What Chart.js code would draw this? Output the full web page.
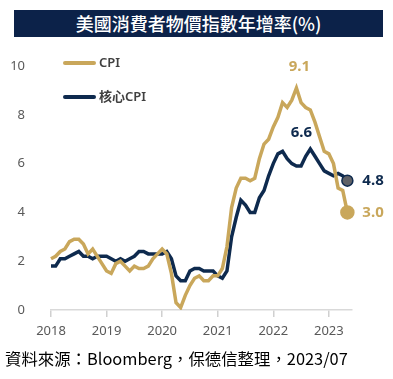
<!DOCTYPE html>
<html>
<head>
<meta charset="utf-8">
<script src="https://cdn.jsdelivr.net/npm/chart.js@4.4.0/dist/chart.umd.min.js"></script>
<style>
  body { margin: 0; background: #fff; font-family: "Noto Sans", "Noto Sans CJK TC", sans-serif; }
  #wrap { position: relative; width: 393px; height: 379px; overflow: hidden; }
  #title { position: absolute; left: 14px; top: 10px; width: 369px; height: 27px; background: #0c2249;
    color: #fff; font: 500 18px "Noto Sans CJK TC", sans-serif; text-align: center; line-height: 27px; }
  #chartBox { position: absolute; left: 0; top: 0; width: 393px; height: 379px; }
  .lg { position: absolute; left: 63px; height: 18px; font: 600 13px "Noto Sans", "Noto Sans CJK TC", sans-serif; color: #404040; line-height: 18px; }
  .lg i { display: inline-block; width: 33px; height: 4px; vertical-align: middle; margin-right: 3px; border-radius: 2px; }
  #foot { position: absolute; left: 5px; top: 346px; font: 16.4px "Noto Sans CJK TC", sans-serif; color: #000; white-space: nowrap; }
</style>
</head>
<body>
<div id="wrap">
  <div id="chartBox"><canvas id="myChart" width="393" height="379"></canvas></div>
  <div id="title">美國消費者物價指數年增率(%)</div>
  <div class="lg" style="top:53px"><i style="background:#c9a75b"></i>CPI</div>
  <div class="lg" style="top:87px"><i style="background:#0e2a4e"></i>核心CPI</div>
  <div id="foot">資料來源：Bloomberg，保德信整理，2023/07</div>
</div>
<script>
var years = ['2018', '2019', '2020', '2021', '2022', '2023']
var months = ['01','02','03','04','05','06','07','08','09','10','11','12']
var labels = []
for (var i = 0; i < years.length; i++) {
  for (var j = 0; j < 12; j++) {
    if (i == years.length - 1 && j > 5) break
    labels.push(years[i] + '/' + months[j])
  }
}

// 2018/01 - 2023/05
var cpi = [
  2.1, 2.2, 2.4, 2.5, 2.8, 2.9, 2.9, 2.7, 2.3, 2.5, 2.2, 1.9,
  1.6, 1.5, 1.9, 2.0, 1.8, 1.6, 1.8, 1.7, 1.7, 1.8, 2.1, 2.3,
  2.5, 2.3, 1.5, 0.3, 0.1, 0.6, 1.0, 1.3, 1.4, 1.2, 1.2, 1.4,
  1.4, 1.7, 2.6, 4.2, 5.0, 5.4, 5.4, 5.3, 5.4, 6.2, 6.8, 7.0,
  7.5, 7.9, 8.5, 8.3, 8.6, 9.1, 8.5, 8.3, 8.2, 7.7, 7.1, 6.5,
  6.4, 6.0, 5.0, 4.9, 4.0
]
var coreCpi = [
  1.8, 1.8, 2.1, 2.1, 2.2, 2.3, 2.4, 2.2, 2.2, 2.1, 2.2, 2.2,
  2.2, 2.1, 2.0, 2.1, 2.0, 2.1, 2.2, 2.4, 2.4, 2.3, 2.3, 2.3,
  2.3, 2.4, 2.1, 1.4, 1.2, 1.2, 1.6, 1.7, 1.7, 1.6, 1.6, 1.6,
  1.4, 1.3, 1.6, 3.0, 3.8, 4.5, 4.3, 4.0, 4.0, 4.6, 4.9, 5.5,
  6.0, 6.4, 6.5, 6.2, 6.0, 5.9, 5.9, 6.3, 6.6, 6.3, 6.0, 5.7,
  5.6, 5.5, 5.6, 5.5, 5.3
]
var seriesNames = ['CPI', '核心CPI']
var peakLabels = ['9.1', '6.6']
var endLabels = ['3.0', '4.8']
var yTicks = [0, 2, 4, 6, 8, 10]

var GOLD = '#c9a75b'
var NAVY = '#0e2a4e'

var notes = {
  id: 'notes',
  afterDatasetsDraw: function (chart) {
    var c = chart.ctx
    c.save()
    c.font = 'bold 15px "Noto Sans", sans-serif'
    c.textBaseline = 'middle'
    var cols = [GOLD, NAVY]
    var peakOff = [[3, -21], [-9, -16]]
    for (var d = 0; d < 2; d++) {
      var data = chart.data.datasets[d].data
      var pts = chart.getDatasetMeta(d).data
      var mx = 0
      for (var k = 0; k < data.length; k++) if (data[k] > data[mx]) mx = k
      c.fillStyle = cols[d]
      c.textAlign = 'center'
      c.fillText(peakLabels[d], pts[mx].x + peakOff[d][0], pts[mx].y + peakOff[d][1])
      var last = pts[pts.length - 1]
      c.textAlign = 'left'
      c.fillText(endLabels[d], last.x + 15, last.y)
    }
    c.restore()
  }
}

new Chart('myChart', {
  type: 'line',
  data: {
    labels: labels,
    datasets: [{
      label: seriesNames[0],
      data: cpi,
      borderColor: GOLD,
      borderWidth: 3.5,
      pointRadius: function (ctx) { return ctx.dataIndex == cpi.length - 1 ? 5.5 : 0 },
      pointBackgroundColor: GOLD,
      pointBorderColor: GOLD,
      tension: 0
    }, {
      label: seriesNames[1],
      data: coreCpi,
      borderColor: NAVY,
      borderWidth: 3.5,
      pointRadius: function (ctx) { return ctx.dataIndex == coreCpi.length - 1 ? 5.5 : 0 },
      pointBackgroundColor: '#5f6166',
      pointBorderColor: NAVY,
      pointBorderWidth: 1.5,
      tension: 0
    }]
  },
  options: {
    responsive: false,
    animation: false,
    layout: { padding: { left: 0, right: 41, top: 66, bottom: 39 } },
    plugins: { legend: { display: false }, tooltip: { enabled: false } },
    scales: {
      x: {
        offset: false,
        afterFit: function (s) { s.height = 30 },
        border: { color: '#d9d9d9', width: 1.5 },
        grid: {
          drawOnChartArea: false,
          tickLength: 7,
          lineWidth: 1.5,
          color: function (ctx) { return ctx.tick && /\/01$/.test(labels[ctx.index]) ? '#d0d0d0' : 'transparent' }
        },
        ticks: {
          autoSkip: false,
          maxRotation: 0,
          padding: 6,
          color: '#595959',
          font: { family: 'Noto Sans', size: 13 },
          callback: function (v, i) { var l = labels[i]; return /\/01$/.test(l) ? l.slice(0, 4) : '' }
        }
      },
      y: {
        min: 0,
        max: 10,
        afterFit: function (s) { s.width = 51 },
        afterBuildTicks: function (s) { s.ticks = yTicks.map(function (v) { return { value: v } }) },
        border: { display: false },
        grid: { display: false },
        ticks: { padding: 18, color: '#595959', font: { family: 'Noto Sans', size: 13 } }
      }
    }
  },
  plugins: [notes]
})
</script>
</body>
</html>
